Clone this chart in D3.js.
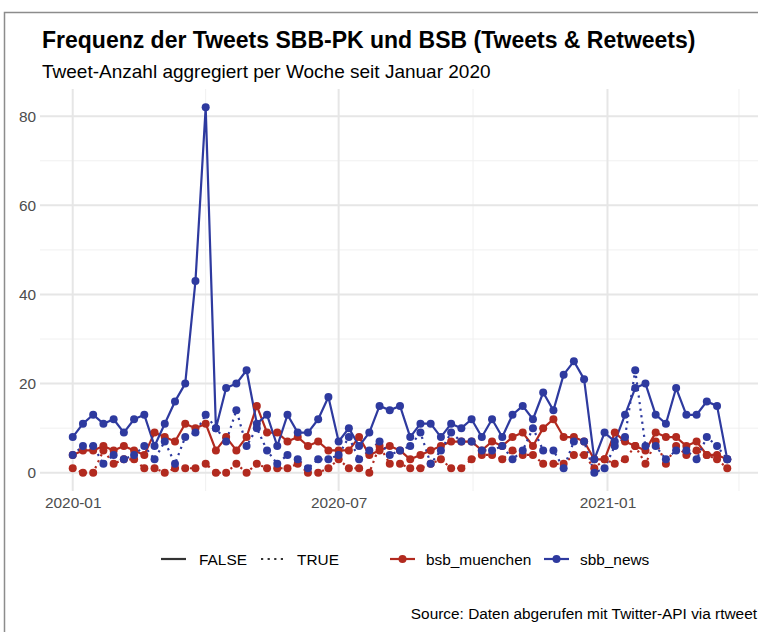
<!DOCTYPE html>
<html>
<head>
<meta charset="utf-8">
<script src="https://cdn.jsdelivr.net/npm/d3@7"></script>
<style>
  body { margin: 0; background: #fff; }
  text { font-family: "Liberation Sans", Arial, Helvetica, sans-serif; }
</style>
</head>
<body>
<div id="chart"></div>
<script>
// week start dates (x categories)
var weeks = [
  "2020-01-01","2020-01-08","2020-01-15","2020-01-22","2020-01-29","2020-02-05","2020-02-12","2020-02-19",
  "2020-02-26","2020-03-04","2020-03-11","2020-03-18","2020-03-25","2020-04-01","2020-04-08","2020-04-15",
  "2020-04-22","2020-04-29","2020-05-06","2020-05-13","2020-05-20","2020-05-27","2020-06-03","2020-06-10",
  "2020-06-17","2020-06-24","2020-07-01","2020-07-08","2020-07-15","2020-07-22","2020-07-29","2020-08-05",
  "2020-08-12","2020-08-19","2020-08-26","2020-09-02","2020-09-09","2020-09-16","2020-09-23","2020-09-30",
  "2020-10-07","2020-10-14","2020-10-21","2020-10-28","2020-11-04","2020-11-11","2020-11-18","2020-11-25",
  "2020-12-02","2020-12-09","2020-12-16","2020-12-23","2020-12-30","2021-01-06","2021-01-13","2021-01-20",
  "2021-01-27","2021-02-03","2021-02-10","2021-02-17","2021-02-24","2021-03-03","2021-03-10","2021-03-17",
  "2021-03-24"
];

// tweets per week, is_retweet FALSE / TRUE
var sbbFalse = [8,11,13,11,12,9,12,13,6,11,16,20,43,82,10,19,20,23,11,13,6,13,9,9,12,17,
  7,10,6,9,15,14,15,8,11,11,8,11,10,12,8,12,8,13,15,12,18,14,22,25,21,3,9,7,13,19,20,13,11,19,13,13,16,15,3];
var sbbTrue = [4,6,6,2,4,3,4,6,3,7,2,8,9,13,10,7,14,6,10,5,2,4,3,1,3,3,
  4,8,3,5,7,4,5,6,9,2,5,9,7,7,5,5,6,3,5,10,5,5,1,7,7,0,1,6,8,23,6,6,3,5,5,3,8,6,3];
var bsbFalse = [4,5,5,6,5,6,5,4,9,8,7,11,10,11,5,8,5,8,15,9,9,7,8,6,7,5,
  5,5,8,4,5,6,5,3,4,5,6,7,7,7,5,7,6,8,9,6,10,12,8,8,7,3,3,9,7,6,5,9,8,8,6,7,4,4,3];
var bsbTrue = [1,0,0,5,2,3,3,1,1,0,1,1,1,2,0,0,2,0,2,1,1,1,2,0,0,1,
  3,1,1,0,6,2,2,1,1,2,3,1,1,3,4,4,3,5,4,4,2,2,2,4,4,1,3,2,3,6,2,7,2,6,4,5,4,3,1];

var xTickLabels = ["2020-01", "2020-07", "2021-01"];
var yTicks = [0, 20, 40, 60, 80];

var accounts = ["bsb_muenchen", "sbb_news"];
var retweetLevels = ["FALSE", "TRUE"];

var colors = { bsb_muenchen: "#b22a1f", sbb_news: "#2e3a9f" };

var series = [
  { account: "bsb_muenchen", retweet: "FALSE", values: bsbFalse },
  { account: "bsb_muenchen", retweet: "TRUE", values: bsbTrue },
  { account: "sbb_news", retweet: "FALSE", values: sbbFalse },
  { account: "sbb_news", retweet: "TRUE", values: sbbTrue }
];

var W = 758, H = 632;
var parse = d3.utcParse("%Y-%m-%d");
var dates = weeks.map(parse);

var svg = d3.select("#chart").append("svg")
  .attr("width", W)
  .attr("height", H);

// frame around the figure (screenshot border)
svg.append("rect")
  .attr("x", 4.5).attr("y", 12.5)
  .attr("width", 800).attr("height", 700)
  .attr("fill", "none")
  .attr("stroke", "#8c8c8c")
  .attr("stroke-width", 1.5);

// panel
var panel = { left: 40, right: 760, top: 89, bottom: 491 };

// ggplot style 5% expansion on both axes
var xExt = d3.extent(dates);
var xPad = (xExt[1] - xExt[0]) * 0.05;
var x = d3.scaleUtc()
  .domain([new Date(+xExt[0] - xPad), new Date(+xExt[1] + xPad)])
  .range([panel.left, panel.right]);

var yMax = d3.max(series, function (s) { return d3.max(s.values); });
var y = d3.scaleLinear()
  .domain([-yMax * 0.05, yMax * 1.05])
  .range([panel.bottom, panel.top]);

var grid = svg.append("g");

// minor gridlines
var yMinor = [10, 30, 50, 70];
grid.selectAll(".ymin").data(yMinor).enter().append("line")
  .attr("x1", panel.left).attr("x2", panel.right)
  .attr("y1", function (d) { return y(d); })
  .attr("y2", function (d) { return y(d); })
  .attr("stroke", "#f0f0f0").attr("stroke-width", 1);

var xMinor = ["2020-04-01", "2020-10-01", "2021-04-01"].map(parse);
grid.selectAll(".xmin").data(xMinor).enter().append("line")
  .attr("y1", panel.top).attr("y2", panel.bottom)
  .attr("x1", function (d) { return x(d); })
  .attr("x2", function (d) { return x(d); })
  .attr("stroke", "#f0f0f0").attr("stroke-width", 1);

// major gridlines
grid.selectAll(".ymaj").data(yTicks).enter().append("line")
  .attr("x1", panel.left).attr("x2", panel.right)
  .attr("y1", function (d) { return y(d); })
  .attr("y2", function (d) { return y(d); })
  .attr("stroke", "#e6e6e6").attr("stroke-width", 2);

var xMajor = xTickLabels.map(function (d) { return parse(d + "-01"); });
grid.selectAll(".xmaj").data(xMajor).enter().append("line")
  .attr("y1", panel.top).attr("y2", panel.bottom)
  .attr("x1", function (d) { return x(d); })
  .attr("x2", function (d) { return x(d); })
  .attr("stroke", "#e6e6e6").attr("stroke-width", 2);

// axes (no domain line, no ticks, like theme_minimal)
var yAxis = svg.append("g")
  .attr("transform", "translate(" + panel.left + ",0)")
  .call(d3.axisLeft(y).tickValues(yTicks).tickSize(0).tickPadding(4));
yAxis.select(".domain").remove();
yAxis.selectAll("text")
  .attr("fill", "#4d4d4d")
  .style("font-size", "15.4px")
  .style("font-family", "'Liberation Sans', Arial, sans-serif");

var xAxis = svg.append("g")
  .attr("transform", "translate(0," + panel.bottom + ")")
  .call(d3.axisBottom(x).tickValues(xMajor).tickSize(0).tickPadding(6)
    .tickFormat(d3.utcFormat("%Y-%m")));
xAxis.select(".domain").remove();
xAxis.selectAll("text")
  .attr("fill", "#4d4d4d")
  .style("font-size", "15.4px")
  .style("font-family", "'Liberation Sans', Arial, sans-serif");

// lines
var line = d3.line()
  .x(function (d, i) { return x(dates[i]); })
  .y(function (d) { return y(d); });

svg.selectAll(".series").data(series).enter().append("path")
  .attr("d", function (s) { return line(s.values); })
  .attr("fill", "none")
  .attr("stroke", function (s) { return colors[s.account]; })
  .attr("stroke-width", 2.2)
  .attr("stroke-linejoin", "round")
  .attr("stroke-dasharray", function (s) { return s.retweet === "TRUE" ? "2.2,4.4" : null; });

// points
series.forEach(function (s) {
  svg.append("g").selectAll("circle").data(s.values).enter().append("circle")
    .attr("cx", function (d, i) { return x(dates[i]); })
    .attr("cy", function (d) { return y(d); })
    .attr("r", 4)
    .attr("fill", colors[s.account]);
});

// title and subtitle
svg.append("text")
  .attr("x", 42).attr("y", 48)
  .style("font-size", "23px")
  .style("font-weight", "bold")
  .attr("fill", "#000")
  .text("Frequenz der Tweets SBB-PK und BSB (Tweets & Retweets)");

svg.append("text")
  .attr("x", 42).attr("y", 78)
  .style("font-size", "19px")
  .attr("fill", "#000")
  .text("Tweet-Anzahl aggregiert per Woche seit Januar 2020");

// legend
var legY = 559;
var lt = svg.append("g");
var ltItems = [
  { label: "FALSE", x0: 161, dash: null, tx: 199 },
  { label: "TRUE", x0: 261, dash: "2.2,4.4", tx: 297 }
];
ltItems.forEach(function (d) {
  lt.append("line")
    .attr("x1", d.x0).attr("x2", d.x0 + 25)
    .attr("y1", legY).attr("y2", legY)
    .attr("stroke", "#333").attr("stroke-width", 2.2)
    .attr("stroke-dasharray", d.dash);
  lt.append("text")
    .attr("x", d.tx).attr("y", legY + 5.5)
    .style("font-size", "15.4px")
    .text(d.label);
});

var colItems = [
  { label: "bsb_muenchen", x0: 390, tx: 426 },
  { label: "sbb_news", x0: 544, tx: 580 }
];
colItems.forEach(function (d) {
  lt.append("line")
    .attr("x1", d.x0).attr("x2", d.x0 + 25)
    .attr("y1", legY).attr("y2", legY)
    .attr("stroke", colors[d.label]).attr("stroke-width", 2.2);
  lt.append("circle")
    .attr("cx", d.x0 + 12.5).attr("cy", legY).attr("r", 4)
    .attr("fill", colors[d.label]);
  lt.append("text")
    .attr("x", d.tx).attr("y", legY + 5.5)
    .style("font-size", "15.4px")
    .text(d.label);
});

// caption
svg.append("text")
  .attr("x", 757).attr("y", 619)
  .attr("text-anchor", "end")
  .style("font-size", "15.4px")
  .text("Source: Daten abgerufen mit Twitter-API via rtweet");
</script>
</body>
</html>
